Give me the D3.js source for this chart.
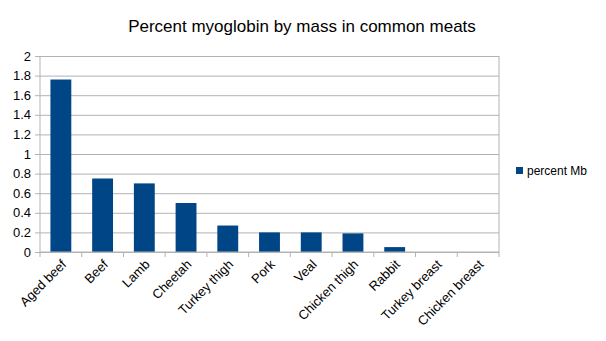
<!DOCTYPE html>
<html><head><meta charset="utf-8">
<script src="https://cdn.jsdelivr.net/npm/d3@7"></script>
<style>body{margin:0;background:#fff}svg{display:block}text{font-family:"Liberation Sans",Arial,sans-serif}</style>
</head><body>
<svg id="c" width="606" height="341"></svg>
<script>
const categories = ["Aged beef","Beef","Lamb","Cheetah","Turkey thigh","Pork","Veal","Chicken thigh","Rabbit","Turkey breast","Chicken breast"];
const values = [1.76, 0.75, 0.70, 0.50, 0.27, 0.20, 0.20, 0.19, 0.05, 0, 0];
const yTicks = [0,0.2,0.4,0.6,0.8,1,1.2,1.4,1.6,1.8,2];
const seriesName = "percent Mb";
const title = "Percent myoglobin by mass in common meats";

const svg = d3.select("#c");
const L = 40, R = 499, T = 56, B = 252;
const x = d3.scaleBand().domain(categories).range([L, R]).paddingInner(0).paddingOuter(0);
const y = d3.scaleLinear().domain([0, 2]).range([B, T]);
const grid = "#b3b3b3";

svg.append("text").attr("x", 302).attr("y", 32).attr("text-anchor", "middle")
  .attr("font-size", 17).attr("fill", "#000").text(title);

// gridlines
const yAxis = d3.axisLeft(y).tickValues(yTicks).tickSize(-(R - L)).tickSizeOuter(0)
  .tickFormat(d => String(d));
const gy = svg.append("g").attr("transform", `translate(${L},0)`).call(yAxis);
gy.select(".domain").remove();
gy.selectAll(".tick line").attr("stroke", grid).attr("x1", -5);
gy.selectAll(".tick text").attr("x", -9).attr("font-size", 13).attr("fill", "#000").attr("font-family", '"Liberation Sans",Arial,sans-serif');

// y axis line & right border
svg.append("line").attr("x1", L).attr("x2", L).attr("y1", T).attr("y2", B).attr("stroke", grid);
svg.append("line").attr("x1", R).attr("x2", R).attr("y1", T).attr("y2", B).attr("stroke", grid);

// bars
const bw = x.bandwidth() * 0.5;
svg.append("g").selectAll("rect").data(categories).join("rect")
  .attr("x", (d) => x(d) + (x.bandwidth() - bw) / 2)
  .attr("width", bw)
  .attr("y", (d, i) => y(values[i]))
  .attr("height", (d, i) => B - y(values[i]))
  .attr("fill", "#004586");

// x axis
svg.append("line").attr("x1", L).attr("x2", R).attr("y1", B).attr("y2", B).attr("stroke", grid);
const bounds = categories.map(c => x(c)).concat([R]);
svg.append("g").selectAll("line").data(bounds).join("line")
  .attr("x1", d => d).attr("x2", d => d).attr("y1", B).attr("y2", B + 5).attr("stroke", grid);

svg.append("g").selectAll("text").data(categories).join("text")
  .attr("transform", d => `translate(${x(d) + x.bandwidth() / 2 + 3},${B + 10}) rotate(-45)`)
  .attr("text-anchor", "end").attr("font-size", 13).attr("fill", "#000")
  .attr("dy", "0.35em").text(d => d);

// legend
svg.append("rect").attr("x", 516).attr("y", 167).attr("width", 7).attr("height", 7).attr("fill", "#004586");
svg.append("text").attr("x", 527).attr("y", 171).attr("dy", "0.35em").attr("font-size", 12).attr("fill", "#000").text(seriesName);
</script>
</body></html>
